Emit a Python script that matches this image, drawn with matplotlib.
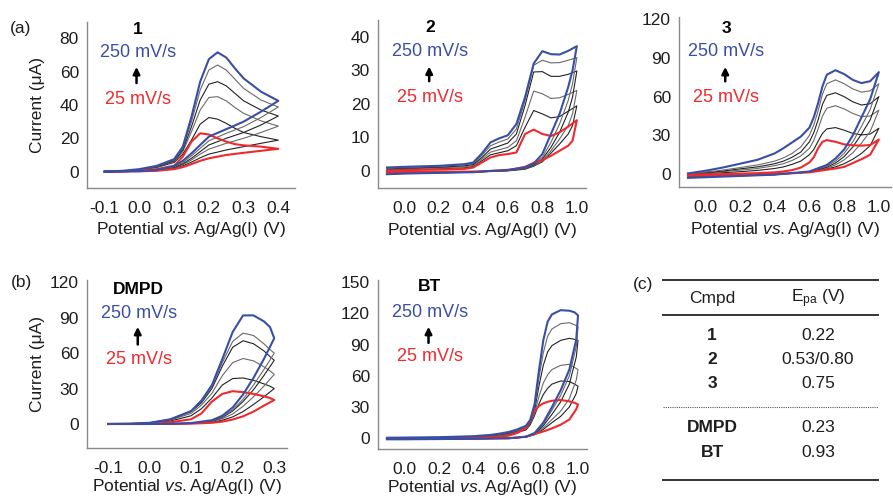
import matplotlib
matplotlib.use('Agg')
import matplotlib.pyplot as plt
from matplotlib.lines import Line2D

plt.rcParams['font.family'] = ['Liberation Sans', 'DejaVu Sans']
plt.rcParams['mathtext.fontset'] = 'custom'
plt.rcParams['mathtext.rm'] = 'Liberation Sans'
plt.rcParams['mathtext.it'] = 'Liberation Sans:italic'
plt.rcParams['mathtext.bf'] = 'Liberation Sans:bold'

# scan rates, mV/s (lowest = red, highest = blue)
rates = [25, 50, 100, 150, 200, 250]

# ---- compound 1 ----
p1_E_fwd = [-0.1, -0.05, 0.0, 0.05, 0.1, 0.125, 0.15, 0.175, 0.2, 0.225, 0.25, 0.275, 0.3, 0.35, 0.4]
p1_E_rev = [0.4, 0.35, 0.3, 0.25, 0.2, 0.175, 0.15, 0.125, 0.1, 0.05, 0.0, -0.1]
p1_fwd = [
    [0, 0.2, 0.6, 1.5, 3.5, 9, 18, 23, 22.3, 20, 18, 16.5, 15.8, 15, 13.7],
    [0, 0.3, 1, 2.5, 5.5, 10.5, 19, 28.5, 32.5, 31.5, 29, 26, 23.5, 21, 18.9],
    [0, 0.3, 1.1, 2.8, 6, 12, 24, 37, 44.5, 45, 42.5, 38.5, 35, 30.5, 27.3],
    [0, 0.4, 1.2, 3, 6.5, 13, 27, 43, 52.5, 54, 51.5, 47, 42.5, 37, 33.4],
    [0, 0.4, 1.3, 3.2, 7, 14, 30, 49, 61, 64, 61, 55.5, 50, 43, 38.8],
    [0, 0.5, 1.5, 3.5, 7.5, 15, 33, 54, 67.5, 71.6, 68.5, 62, 56, 48, 42.5],
]
p1_rev = [
    [13.7, 12.5, 11.3, 10, 8, 6.5, 4.5, 2.7, 1.5, 0.5, 0.2, 0],
    [18.9, 17, 15, 13, 10.5, 8.3, 5.7, 3.5, 1.9, 0.6, 0.2, 0],
    [27.3, 23.5, 20, 17, 13.5, 10.5, 7, 4.2, 2.3, 0.7, 0.2, 0],
    [33.4, 28, 23.5, 20, 16, 12, 8, 4.7, 2.6, 0.8, 0.3, 0],
    [38.8, 32.5, 27, 23, 18.5, 14, 9.5, 5.5, 3, 0.9, 0.3, 0],
    [42.5, 36, 30, 25.5, 21, 16, 11, 6.5, 3.5, 1, 0.3, 0],
]

# ---- compound 2 ----
p2_E_fwd = [-0.1, 0.0, 0.2, 0.35, 0.4, 0.45, 0.5, 0.55, 0.6, 0.65, 0.7, 0.75, 0.8, 0.85, 0.9, 0.95, 1.0]
p2_E_rev = [1.0, 0.975, 0.95, 0.9, 0.85, 0.8, 0.75, 0.7, 0.6, 0.4, 0.0, -0.1]
p2_fwd = [
    [0.0, 0.2, 0.4, 0.6, 1.0, 2.5, 4.0, 4.7, 5.0, 5.5, 11, 12.3, 11, 10.4, 11.5, 13.2, 15.1],
    [0.3, 0.4, 0.6, 0.9, 1.3, 3.0, 4.8, 5.4, 6.0, 7.5, 13, 18, 17, 15.8, 16.2, 17.8, 19.4],
    [0.4, 0.6, 0.9, 1.2, 1.6, 3.5, 5.6, 6.3, 7.0, 9.0, 16, 23.8, 23, 21.6, 21.8, 22.8, 24],
    [0.6, 0.8, 1.1, 1.5, 1.9, 4.0, 6.5, 7.4, 8.3, 11, 19.5, 29.5, 29.6, 28.2, 28.2, 28.8, 29.8],
    [0.8, 1.0, 1.3, 1.8, 2.2, 4.6, 7.5, 8.6, 9.5, 12.5, 21, 31.5, 33, 32.2, 32.3, 33, 33.8],
    [1.0, 1.2, 1.5, 2.0, 2.5, 5.2, 8.5, 9.7, 10.6, 14, 22, 32, 35.7, 34.8, 34.7, 35.8, 37.2],
]
p2_rev = [
    [15.1, 9, 7.5, 6, 4.5, 3.2, 2.4, 1.2, 0.2, -0.2, -0.4, -0.5],
    [19.4, 13.5, 11, 8, 5.3, 2.7, 1.4, 0.5, 0.0, -0.3, -0.5, -0.7],
    [24, 17, 13.5, 9.5, 6, 3, 1.6, 0.6, 0.1, -0.3, -0.6, -0.8],
    [29.8, 22, 17.5, 11.5, 7, 3.5, 1.8, 0.7, 0.1, -0.4, -0.7, -0.9],
    [33.8, 26, 21, 14, 8.5, 4, 2.0, 0.8, 0.2, -0.4, -0.8, -1.0],
    [37.2, 30, 25, 17, 11, 5, 2.2, 1.0, 0.3, -0.4, -0.8, -1.0],
]

# ---- compound 3 ----
p3_E_fwd = [-0.1, 0.0, 0.1, 0.2, 0.3, 0.4, 0.45, 0.5, 0.55, 0.6, 0.625, 0.65, 0.675, 0.7, 0.75, 0.8, 0.85, 0.9, 0.95, 1.0]
p3_E_rev = [1.0, 0.95, 0.9, 0.85, 0.8, 0.75, 0.7, 0.6, 0.4, 0.2, 0.0, -0.1]
p3_fwd = [
    [-0.5, -0.3, 0, 0.3, 0.7, 1.3, 2, 3, 5, 9, 13, 20, 25, 26.3, 25, 23, 22.3, 22, 22.5, 26.8],
    [-0.7, 0.3, 1, 1.8, 2.8, 4.3, 5.5, 7.5, 10, 15, 19, 25.5, 31.5, 35, 36, 34, 31.5, 30.3, 31, 35.5],
    [-0.5, 0.7, 1.8, 3, 4.3, 6.5, 8, 10.5, 14, 20, 26, 35, 45, 51, 53, 50.5, 47, 44.5, 45, 49.5],
    [-0.3, 1, 2.3, 4, 5.5, 8, 10, 13, 17, 25, 32, 42, 54, 61, 63, 60, 56, 53.5, 54.5, 60],
    [0, 1.5, 3, 5, 7, 10, 12.5, 16, 21, 30, 38, 49, 62, 70, 73, 70, 66, 63.5, 64.5, 70],
    [0.5, 2.5, 5, 8, 11, 16, 20, 24.5, 29, 36, 44, 55, 68, 77, 80.5, 77.5, 73, 70.5, 72, 79],
]
p3_rev = [
    [26.8, 15, 11.5, 8.5, 5.5, 4.3, 3.3, 1.3, -0.1, -0.7, -1.1, -1.3],
    [35.5, 22, 16, 11.5, 8, 5.5, 4, 1.5, -0.2, -0.9, -1.4, -1.8],
    [49.5, 33, 24, 16.5, 11, 7, 4.5, 1.5, -0.3, -1.1, -1.8, -2.2],
    [60, 42, 31, 21, 13.5, 8.5, 5.3, 1.6, -0.4, -1.3, -2, -2.5],
    [70, 50, 37, 25, 16, 10, 6, 1.8, -0.5, -1.5, -2.3, -2.8],
    [79, 58, 44, 30, 19, 12, 7, 2, -0.5, -1.5, -2.5, -3],
]

# ---- DMPD ----
p4_E_fwd = [-0.1, -0.05, 0.0, 0.05, 0.1, 0.125, 0.15, 0.175, 0.2, 0.225, 0.25, 0.275, 0.29, 0.3]
p4_E_rev = [0.3, 0.275, 0.25, 0.225, 0.2, 0.175, 0.15, 0.1, 0.05, 0.0, -0.1]
p4_fwd = [
    [0, 0.1, 0.5, 1.5, 4, 9, 19, 25.5, 27.8, 27, 25.5, 23.5, 22, 20.3],
    [0, 0.1, 0.7, 2.5, 7, 13, 22, 33, 38.5, 39, 37, 34, 32, 30],
    [0, 0.2, 0.9, 3.3, 9, 16, 26, 41, 52, 55.5, 53.5, 48.5, 45, 42],
    [0, 0.2, 1, 3.8, 10.5, 18, 30, 49, 65, 70.5, 68, 62, 57, 54],
    [0, 0.2, 1, 4, 11, 19, 32, 52, 70, 77, 75, 68, 63, 60],
    [0, 0.2, 1, 4, 11, 20, 33, 55, 78, 92, 92, 87, 82, 72.6],
]
p4_rev = [
    [20.3, 15.5, 10.5, 6.5, 3.8, 2, 1, 0.3, 0.1, 0, 0],
    [30, 23, 16.5, 10.5, 6, 3.2, 1.5, 0.4, 0.1, 0, 0],
    [42, 32, 23, 15, 8.5, 4.5, 2, 0.5, 0.1, 0, 0],
    [54, 41, 29, 19, 11, 5.5, 2.5, 0.6, 0.2, 0, 0],
    [60, 46, 33, 21, 12, 6, 2.8, 0.7, 0.2, 0, 0],
    [72.6, 55, 39, 25, 14, 7, 3.2, 0.8, 0.2, 0, 0],
]

# ---- BT ----
p5_E_fwd = [-0.1, 0.2, 0.4, 0.5, 0.55, 0.6, 0.65, 0.7, 0.725, 0.75, 0.775, 0.8, 0.825, 0.85, 0.9, 0.95, 0.98, 1.0]
p5_E_rev = [1.0, 0.99, 0.95, 0.9, 0.85, 0.8, 0.75, 0.7, 0.6, 0.4, 0.0, -0.1]
p5_fwd = [
    [0, 0.2, 0.6, 1, 1.5, 2.5, 5, 10, 17, 26, 31, 33.5, 35, 36, 36.8, 35.5, 34, 32.5],
    [0.1, 0.4, 1, 1.6, 2.2, 3.2, 5.5, 8, 13, 22, 33, 42, 48, 52, 55, 54.5, 52, 50],
    [0.2, 0.6, 1.2, 2, 2.8, 4, 6, 9, 14, 24, 40, 53, 61, 66, 70, 71, 68, 66],
    [0.3, 0.8, 1.5, 2.6, 3.5, 4.8, 7, 10, 15, 27, 50, 70, 83, 89, 94, 96, 95, 94],
    [0.4, 0.9, 1.8, 3, 4, 5.5, 7.5, 11, 16, 30, 58, 82, 98, 105, 110, 111, 109, 107],
    [0.5, 1, 2, 3.3, 4.5, 6, 8.5, 12, 17.6, 33, 65, 94, 112, 119, 123, 122.5, 121, 118],
]
p5_rev = [
    [32.5, 28, 18, 13, 9.5, 6.5, 4, 1.5, 0, -0.3, -0.5, -0.5],
    [50, 43, 30, 21, 15, 8.5, 3.5, 1, 0, -0.3, -0.6, -0.6],
    [66, 56, 38, 26, 18, 10, 3.8, 1.1, 0, -0.4, -0.7, -0.7],
    [94, 78, 52, 35, 23, 12, 4.2, 1.2, 0, -0.4, -0.8, -0.8],
    [107, 88, 60, 41, 27, 13.5, 4.5, 1.3, 0, -0.5, -1, -1],
    [118, 95, 66, 46, 30, 15, 5, 1.5, 0, -0.5, -1, -1],
]

# table (c)
tab_cmpd = ['1', '2', '3', 'DMPD', 'BT']
tab_epa = ['0.22', '0.53/0.80', '0.75', '0.23', '0.93']

W, H = 893, 499
BLUE = '#3a4fa3'
RED = '#ee2a2e'
GRAYS = ['#222222', '#6a6a6a', '#222222', '#6a6a6a']
FS = 12.5   # tick / label text
FA = 13     # rate annotations
TXT = '#1e1e1e'
XLABEL = 'Potential $\\it{vs.}$Ag/Ag(I) (V)'


def box(l, t, r, b):
    # pixel box -> figure fraction
    return [l / W, 1 - b / H, (r - l) / W, (b - t) / H]


fig = plt.figure(figsize=(W / 100, H / 100), dpi=100)

panels = [
    # name, axes box, data, xlim, ylim, xticks, yticks, label positions, ylabel x, xlabel y
    ('1', box(87.3, 21.7, 295, 188.3), (p1_E_fwd, p1_E_rev, p1_fwd, p1_rev),
     (-0.15, 0.448), (-10, 90), [-0.1, 0.0, 0.1, 0.2, 0.3, 0.4], [0, 20, 40, 60, 80],
     (0.242, 0.956, 0.818, 0.615, 0.745, 0.536), -0.242, -0.25),
    ('2', box(378.3, 20, 586, 188.3), (p2_E_fwd, p2_E_rev, p2_fwd, p2_rev),
     (-0.15, 1.053), (-5.2, 45), [0.0, 0.2, 0.4, 0.6, 0.8, 1.0], [0, 10, 20, 30, 40],
     (0.25, 0.954, 0.812, 0.62, 0.74, 0.538), None, -0.25),
    ('3', box(679.3, 16.7, 891, 187.3), (p3_E_fwd, p3_E_rev, p3_fwd, p3_rev),
     (-0.15, 1.07), (-10.3, 122), [0.0, 0.2, 0.4, 0.6, 0.8, 1.0], [0, 30, 60, 90, 120],
     (0.222, 0.932, 0.795, 0.605, 0.722, 0.525), None, -0.25),
    ('DMPD', box(87.3, 280, 286.7, 448.3), (p4_E_fwd, p4_E_rev, p4_fwd, p4_rev),
     (-0.15, 0.33), (-20.6, 122), [-0.1, 0.0, 0.1, 0.2, 0.3], [0, 30, 60, 90, 120],
     (0.258, 0.943, 0.802, 0.6, 0.738, 0.525), -0.252, -0.225),
    ('BT', box(378.3, 280, 586.7, 449.3), (p5_E_fwd, p5_E_rev, p5_fwd, p5_rev),
     (-0.15, 1.05), (-10.6, 152), [0.0, 0.2, 0.4, 0.6, 0.8, 1.0], [0, 30, 60, 90, 120, 150],
     (0.246, 0.964, 0.81, 0.612, 0.74, 0.546), None, -0.225),
]

for name, pos, data, xlim, ylim, xt, yt, lab, ylab_x, xlab_y in panels:
    ax = fig.add_axes(pos)
    E_fwd, E_rev, fwd, rev = data
    # grey curves first, then red and blue on top
    order = [1, 2, 3, 4, 0, 5]
    for i in order:
        E = E_fwd + E_rev[1:]
        I = fwd[i] + rev[i][1:]
        if i == 0:
            ax.plot(E, I, color=RED, lw=1.5, solid_joinstyle='round')
        elif i == 5:
            ax.plot(E, I, color=BLUE, lw=1.5, solid_joinstyle='round')
        else:
            ax.plot(E, I, color=GRAYS[i - 1], lw=0.8, solid_joinstyle='round')
    ax.set_xlim(*xlim)
    ax.set_ylim(*ylim)
    ax.set_xticks(xt)
    ax.set_xticklabels(['%.1f' % v for v in xt])
    ax.set_yticks(yt)
    for s in ['top', 'right']:
        ax.spines[s].set_visible(False)
    for s in ['left', 'bottom']:
        ax.spines[s].set_color('#8a8a8a')
        ax.spines[s].set_linewidth(1.0)
    ax.tick_params(axis='x', length=0, pad=9, labelsize=FS, colors=TXT)
    ax.tick_params(axis='y', length=0, pad=6, labelsize=FS, colors=TXT)
    ax.text(0.5, xlab_y, XLABEL, transform=ax.transAxes,
            ha='center', va='center', fontsize=FS, color=TXT)
    if ylab_x is not None:
        ax.text(ylab_x, 0.5, 'Current (\u03bcA)', transform=ax.transAxes, rotation=90,
                ha='center', va='center', fontsize=FS, color=TXT)

    lx, ly_name, ly_hi, ly_a0, ly_a1, ly_lo = lab
    ax.text(lx, ly_name, name, transform=ax.transAxes, ha='center', va='center',
            fontsize=FS, fontweight='bold')
    ax.text(lx, ly_hi, '250 mV/s', transform=ax.transAxes, ha='center', va='center',
            fontsize=FA, color=BLUE)
    ax.text(lx, ly_lo, '25 mV/s', transform=ax.transAxes, ha='center', va='center',
            fontsize=FA, color=RED)
    ax.annotate('', xy=(lx - 0.005, ly_a1), xytext=(lx - 0.005, ly_a0),
                xycoords='axes fraction',
                arrowprops=dict(arrowstyle='-|>', color='black', lw=1.8, mutation_scale=10))

# panel letters
fig.text(21 / W, 1 - 28 / H, '(a)', fontsize=FS, ha='center', va='center', color=TXT)
fig.text(21 / W, 1 - 283 / H, '(b)', fontsize=FS, ha='center', va='center', color=TXT)
fig.text(643 / W, 1 - 285 / H, '(c)', fontsize=FS, ha='center', va='center', color=TXT)

# table (c)
tx0, tx1 = 663 / W, 878 / W
col1, col2 = 712 / W, 818 / W


def hline(py, ls='-', lw=1.4, color='#333333'):
    fig.add_artist(Line2D([tx0, tx1], [1 - py / H, 1 - py / H], transform=fig.transFigure,
                          color=color, lw=lw, ls=ls))


hline(279.5)
hline(315)
hline(406.5, ls=(0, (1, 1)), lw=0.8, color='#555555')
hline(480)
fig.text(col1, 1 - 299 / H, 'Cmpd', fontsize=FS, ha='center', va='center', color=TXT)
fig.text(col2, 1 - 299 / H, 'E$_{\\mathrm{pa}}$ (V)', fontsize=FS, ha='center', va='center', color=TXT)
row_y = [336, 360, 384, 428, 452.5]
for c, e, py in zip(tab_cmpd, tab_epa, row_y):
    fig.text(col1, 1 - py / H, c, fontsize=FS, ha='center', va='center', fontweight='bold', color=TXT)
    fig.text(col2, 1 - py / H, e, fontsize=FS, ha='center', va='center', color=TXT)

fig.savefig('out.png', dpi=100)
